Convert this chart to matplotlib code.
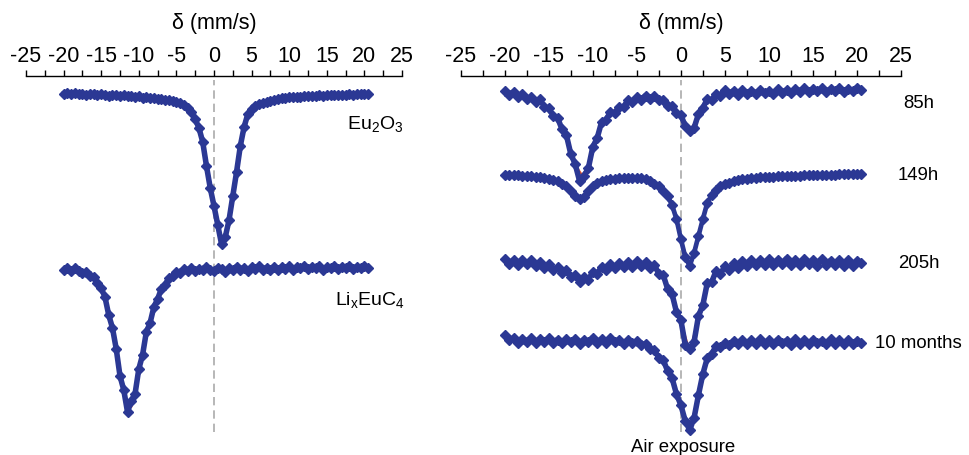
import matplotlib
matplotlib.use("Agg")
import matplotlib.pyplot as plt

plt.rcParams["font.family"] = ["Liberation Sans", "DejaVu Sans"]
plt.rcParams["mathtext.fontset"] = "custom"
plt.rcParams["mathtext.rm"] = "Liberation Sans"
plt.rcParams["mathtext.it"] = "Liberation Sans:italic"
plt.rcParams["axes.unicode_minus"] = False

# velocity channels (mm/s) for the measured points and for the fitted curves
VELOCITY = [
    -20.0, -19.5, -19.0, -18.5, -18.0, -17.5, -17.0, -16.5, -16.0, -15.5,
    -15.0, -14.5, -14.0, -13.5, -13.0, -12.5, -12.0, -11.5, -11.0, -10.5,
    -10.0, -9.5, -9.0, -8.5, -8.0, -7.5, -7.0, -6.5, -6.0, -5.5,
    -5.0, -4.5, -4.0, -3.5, -3.0, -2.5, -2.0, -1.5, -1.0, -0.5,
    0.0, 0.5, 1.0, 1.5, 2.0, 2.5, 3.0, 3.5, 4.0, 4.5,
    5.0, 5.5, 6.0, 6.5, 7.0, 7.5, 8.0, 8.5, 9.0, 9.5,
    10.0, 10.5, 11.0, 11.5, 12.0, 12.5, 13.0, 13.5, 14.0, 14.5,
    15.0, 15.5, 16.0, 16.5, 17.0, 17.5, 18.0, 18.5, 19.0, 19.5,
    20.0, 20.5,
]
FIT_VELOCITY = [
    -20, -19, -18, -17, -16, -15, -14, -13, -12, -11,
    -10, -9, -8, -7, -6, -5, -4, -3, -2, -1,
    0, 1, 2, 3, 4, 5, 6, 7, 8, 9,
    10, 11, 12, 13, 14, 15, 16, 17, 18, 19, 20,
]

# absorption (%)
eu2o3 = [
    0.05, -0.05, 0.08, 0.0, 0.1, 0.05, 0.15, 0.08, 0.12, 0.2,
    0.1, 0.18, 0.25, 0.15, 0.22, 0.3, 0.22, 0.32, 0.28, 0.38,
    0.33, 0.45, 0.42, 0.52, 0.5, 0.58, 0.6, 0.68, 0.7, 0.8,
    0.86, 1.02, 1.2, 1.52, 1.9, 2.6, 3.5, 4.9, 7.3, 9.5,
    11.3, 13.2, 15.1, 14.4, 12.7, 10.3, 7.9, 5.3, 3.4, 2.1,
    1.6, 1.32, 1.1, 0.98, 0.85, 0.78, 0.65, 0.62, 0.5, 0.48,
    0.42, 0.43, 0.36, 0.38, 0.33, 0.32, 0.26, 0.3, 0.24, 0.26,
    0.2, 0.24, 0.18, 0.2, 0.16, 0.19, 0.14, 0.16, 0.12, 0.14,
    0.1, 0.1,
]
eu2o3_fit = [
    0.02, 0.04, 0.06, 0.08, 0.1, 0.13, 0.16, 0.2, 0.24, 0.29,
    0.34, 0.41, 0.5, 0.6, 0.72, 0.88, 1.2, 1.9, 3.5, 7.2,
    11.4, 15.4, 12.6, 7.8, 3.4, 1.7, 1.1, 0.85, 0.66, 0.52,
    0.43, 0.37, 0.32, 0.28, 0.25, 0.22, 0.2, 0.18, 0.16, 0.14, 0.12,
]

lixeuc4 = [
    0.1, -0.15, 0.2, -0.1, 0.15, 0.35, 0.25, 0.7, 0.8, 1.4,
    1.9, 2.8, 4.6, 5.9, 8.0, 10.7, 12.1, 14.3, 13.2, 12.5,
    10.0, 8.6, 6.3, 5.4, 3.8, 3.0, 2.0, 1.6, 0.9, 0.7,
    0.3, 0.35, 0.0, 0.2, -0.1, 0.15, -0.05, 0.1, -0.2, 0.05,
    0.2, -0.15, 0.0, 0.25, -0.1, 0.1, -0.25, 0.05, -0.1, 0.15,
    -0.2, 0.0, -0.3, 0.1, -0.15, 0.05, -0.25, 0.1, -0.2, -0.05,
    -0.3, 0.05, -0.2, -0.1, -0.35, 0.0, -0.25, -0.1, -0.3, 0.05,
    -0.2, -0.15, -0.35, 0.0, -0.25, -0.1, -0.3, -0.05, -0.25, -0.1,
    -0.3, -0.15,
]
lixeuc4_fit = [
    0.0, 0.02, 0.08, 0.3, 0.85, 1.8, 4.4, 8.2, 12.5, 13.8,
    10.2, 6.5, 4.0, 2.1, 1.0, 0.35, 0.1, 0.03, 0.0, -0.02,
    -0.03, -0.04, -0.05, -0.06, -0.07, -0.08, -0.09, -0.1, -0.11, -0.12,
    -0.13, -0.14, -0.15, -0.16, -0.17, -0.18, -0.18, -0.19, -0.19, -0.2, -0.2,
]

h85 = [
    -0.1, 0.25, 0.0, 0.45, 0.2, 0.7, 0.5, 1.0, 0.7, 1.5,
    1.6, 2.4, 2.6, 3.7, 4.3, 6.2, 7.2, 8.9, 8.4, 7.6,
    5.5, 4.6, 3.0, 2.8, 2.0, 2.1, 1.5, 1.5, 0.8, 1.0,
    0.5, 0.75, 0.35, 0.65, 0.35, 0.8, 0.75, 1.4, 1.35, 2.1,
    2.3, 3.4, 3.9, 3.6, 2.2, 1.6, 0.7, 0.8, 0.2, 0.4,
    -0.2, 0.2, -0.15, 0.25, -0.2, 0.15, -0.1, 0.2, -0.25, 0.1,
    -0.15, 0.15, -0.3, 0.05, -0.2, 0.1, -0.35, -0.05, -0.4, 0.0,
    -0.3, -0.1, -0.4, 0.0, -0.3, -0.15, -0.45, -0.05, -0.35, -0.1,
    -0.45, -0.2,
]
h85_fit = [
    0.05, 0.15, 0.35, 0.6, 1.0, 1.6, 2.6, 4.5, 7.3, 8.6,
    5.8, 3.2, 2.1, 1.5, 1.0, 0.7, 0.55, 0.55, 0.85, 1.5,
    2.5, 4.0, 2.4, 0.9, 0.35, 0.1, 0.0, -0.03, -0.05, -0.07,
    -0.09, -0.1, -0.12, -0.13, -0.15, -0.16, -0.17, -0.18, -0.19, -0.2, -0.2,
]

h149 = [
    0.0, 0.02, 0.03, 0.04, 0.05, 0.08, 0.1, 0.15, 0.2, 0.27,
    0.35, 0.47, 0.6, 0.85, 1.1, 1.6, 2.1, 2.4, 2.2, 1.6,
    1.1, 0.8, 0.6, 0.5, 0.4, 0.35, 0.3, 0.27, 0.25, 0.25,
    0.25, 0.3, 0.4, 0.6, 0.9, 1.1, 1.6, 2.1, 3.0, 4.4,
    6.4, 8.2, 9.1, 7.8, 6.1, 4.4, 2.8, 2.0, 1.5, 1.1,
    0.9, 0.75, 0.6, 0.5, 0.42, 0.36, 0.3, 0.27, 0.24, 0.22,
    0.2, 0.17, 0.14, 0.12, 0.1, 0.08, 0.06, 0.05, 0.04, 0.03,
    0.02, 0.0, 0.0, -0.02, -0.04, -0.05, -0.07, -0.08, -0.1, -0.12,
    -0.14, -0.15,
]
h149_fit = [
    0.0, 0.03, 0.05, 0.1, 0.2, 0.35, 0.6, 1.1, 2.1, 2.3,
    1.1, 0.6, 0.4, 0.3, 0.25, 0.25, 0.4, 0.9, 1.6, 3.0,
    6.4, 9.2, 6.1, 2.8, 1.5, 0.9, 0.6, 0.42, 0.3, 0.24,
    0.2, 0.14, 0.1, 0.06, 0.04, 0.02, 0.0, -0.04, -0.07, -0.1, -0.14,
]

h205 = [
    -0.2, 0.25, -0.1, 0.35, -0.15, 0.3, -0.1, 0.5, 0.1, 0.65,
    0.3, 0.9, 0.6, 1.2, 0.9, 1.6, 1.4, 2.1, 1.6, 1.85,
    1.1, 1.3, 0.55, 0.9, 0.25, 0.7, 0.15, 0.6, 0.05, 0.55,
    0.0, 0.5, 0.1, 0.7, 0.4, 1.3, 1.4, 2.8, 3.3, 5.1,
    5.9, 8.4, 8.8, 8.1, 5.5, 4.4, 2.2, 2.1, 1.0, 1.3,
    0.5, 0.9, 0.2, 0.7, 0.0, 0.5, -0.15, 0.4, -0.1, 0.35,
    -0.2, 0.4, -0.1, 0.3, -0.25, 0.35, -0.15, 0.4, -0.2, 0.3,
    -0.1, 0.45, -0.2, 0.35, -0.05, 0.4, -0.15, 0.45, -0.1, 0.5,
    -0.05, 0.2,
]
h205_fit = [
    0.0, 0.05, 0.1, 0.2, 0.3, 0.5, 0.8, 1.1, 1.6, 1.8,
    1.3, 0.8, 0.5, 0.4, 0.3, 0.3, 0.3, 0.6, 1.6, 3.5,
    6.1, 9.0, 5.8, 2.5, 1.3, 0.8, 0.5, 0.3, 0.2, 0.15,
    0.12, 0.1, 0.1, 0.1, 0.1, 0.1, 0.1, 0.1, 0.11, 0.12, 0.12,
]

months10 = [
    -0.4, 0.1, -0.15, 0.35, -0.05, 0.3, -0.1, 0.4, 0.0, 0.3,
    -0.1, 0.35, 0.05, 0.4, -0.05, 0.3, 0.0, 0.45, 0.05, 0.3,
    -0.15, 0.35, 0.0, 0.4, -0.1, 0.3, 0.05, 0.45, 0.1, 0.4,
    0.2, 0.55, 0.45, 1.0, 1.1, 1.9, 2.1, 3.2, 3.9, 5.5,
    6.6, 8.2, 9.1, 7.9, 5.6, 3.5, 1.9, 1.5, 0.7, 0.8,
    0.35, 0.6, 0.15, 0.5, 0.05, 0.45, 0.1, 0.5, 0.0, 0.45,
    0.1, 0.5, 0.05, 0.4, 0.15, 0.55, 0.0, 0.45, 0.1, 0.5,
    0.05, 0.4, 0.15, 0.5, 0.0, 0.45, 0.1, 0.5, 0.05, 0.45,
    0.15, 0.35,
]
months10_fit = [
    -0.1, 0.0, 0.1, 0.1, 0.1, 0.1, 0.1, 0.1, 0.1, 0.1,
    0.1, 0.1, 0.1, 0.1, 0.1, 0.2, 0.5, 1.2, 2.2, 4.0,
    6.7, 9.0, 5.7, 2.0, 0.8, 0.5, 0.3, 0.25, 0.25, 0.25,
    0.25, 0.25, 0.25, 0.25, 0.25, 0.25, 0.25, 0.25, 0.25, 0.25, 0.25,
]

left_labels = [r"Eu$_\mathrm{2}$O$_\mathrm{3}$", r"Li$_\mathrm{x}$EuC$_\mathrm{4}$"]
right_labels = ["85h", "149h", "205h", "10 months"]

BLUE = "#2B3894"
RED = "#F15A24"
W, H = 970, 456


def draw(ax, data, fit, base, lw=4.0):
    ax.plot(FIT_VELOCITY, [base - v for v in fit], color=RED, lw=1.6, zorder=2)
    ax.plot(VELOCITY, [base - v for v in data], color=BLUE, lw=lw,
            marker="D", ms=5, mec=BLUE, mfc=BLUE, solid_capstyle="round",
            solid_joinstyle="round", zorder=3)


def setup(ax):
    ax.set_xlim(-25, 25)
    ax.set_ylim(-36.3, 0)
    for side in ["left", "right", "bottom"]:
        ax.spines[side].set_visible(False)
    ax.spines["top"].set_linewidth(1.0)
    ax.xaxis.tick_top()
    ax.xaxis.set_label_position("top")
    ax.set_xticks(range(-25, 26, 5))
    ax.set_xticks([x + 2.5 for x in range(-25, 25, 5)], minor=True)
    ax.tick_params(axis="x", which="both", direction="out", length=4.5, width=1,
                   labelsize=15.5, pad=3)
    ax.set_yticks([])
    ax.set_xlabel("δ (mm/s)", fontsize=15.5, labelpad=12)
    ax.axvline(0, ymin=0.02, ymax=0.99, color="#AAAAAA", lw=1.2, ls=(0, (5, 3)), zorder=1)


fig = plt.figure(figsize=(W / 100, H / 100), dpi=100)
ax1 = fig.add_axes([26 / W, 16 / H, 376 / W, 363 / H])
ax2 = fig.add_axes([460.7 / W, 16 / H, 440.3 / W, 363 / H])
setup(ax1)
setup(ax2)

draw(ax1, eu2o3, eu2o3_fit, -1.7)
draw(ax1, lixeuc4, lixeuc4_fit, -19.3)
ax1.text(17.7, -5.15, left_labels[0], fontsize=14, ha="left", va="baseline")
ax1.text(16.1, -22.8, left_labels[1], fontsize=14, ha="left", va="baseline")

right_sets = [(h85, h85_fit, -1.6), (h149, h149_fit, -9.9),
              (h205, h205_fit, -18.5), (months10, months10_fit, -26.3)]
label_y = [-3.1, -10.3, -19.1, -27.1]
for (data, fit, base), lab, ly in zip(right_sets, right_labels, label_y):
    draw(ax2, data, fit, base, lw=3.4 if data is h149 else 4.0)
    ax2.text(27.0, ly, lab, fontsize=13.4, ha="center", va="baseline", clip_on=False)
ax2.text(0.3, -37.5, "Air exposure", fontsize=13.4, ha="center", va="baseline", clip_on=False)

fig.savefig("out.png", dpi=100)
